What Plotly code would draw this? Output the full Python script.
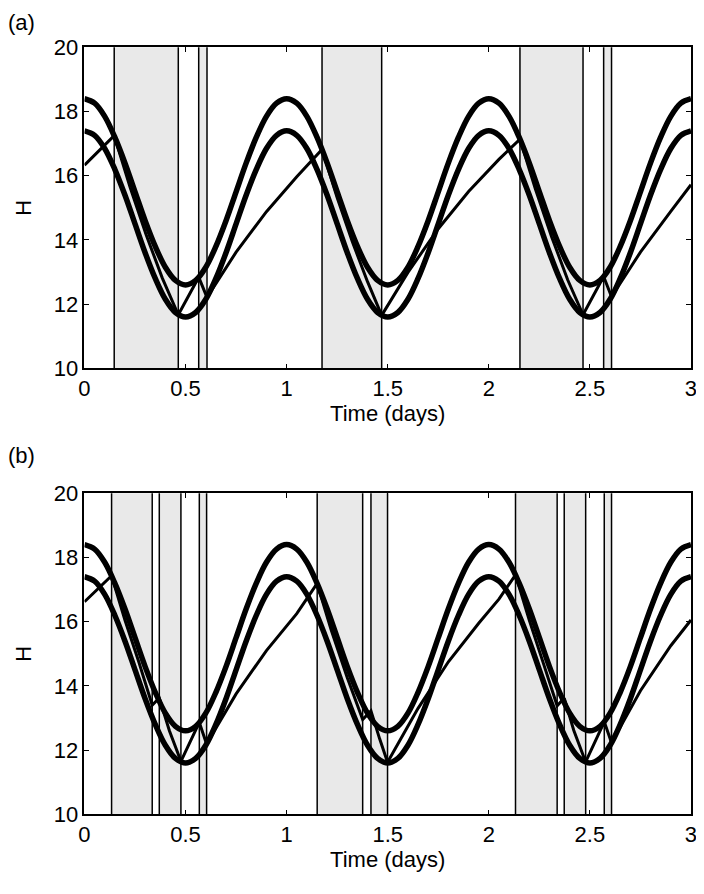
import plotly.graph_objects as go

# Threshold curves (read at 1/20-day steps)
thr_t = [round(i * 0.05, 2) for i in range(61)]
upper = [18.40, 18.26, 17.85, 17.20, 16.40, 15.50, 14.60, 13.80, 13.15, 12.74,
         12.60, 12.74, 13.15, 13.80, 14.60, 15.50, 16.40, 17.20, 17.85, 18.26,
         18.40, 18.26, 17.85, 17.20, 16.40, 15.50, 14.60, 13.80, 13.15, 12.74,
         12.60, 12.74, 13.15, 13.80, 14.60, 15.50, 16.40, 17.20, 17.85, 18.26,
         18.40, 18.26, 17.85, 17.20, 16.40, 15.50, 14.60, 13.80, 13.15, 12.74,
         12.60, 12.74, 13.15, 13.80, 14.60, 15.50, 16.40, 17.20, 17.85, 18.26,
         18.40]
lower = [17.40, 17.26, 16.85, 16.20, 15.40, 14.50, 13.60, 12.80, 12.15, 11.74,
         11.60, 11.74, 12.15, 12.80, 13.60, 14.50, 15.40, 16.20, 16.85, 17.26,
         17.40, 17.26, 16.85, 16.20, 15.40, 14.50, 13.60, 12.80, 12.15, 11.74,
         11.60, 11.74, 12.15, 12.80, 13.60, 14.50, 15.40, 16.20, 16.85, 17.26,
         17.40, 17.26, 16.85, 16.20, 15.40, 14.50, 13.60, 12.80, 12.15, 11.74,
         11.60, 11.74, 12.15, 12.80, 13.60, 14.50, 15.40, 16.20, 16.85, 17.26,
         17.40]

# Panel (a) trajectory
a_t = [0.0, 0.147, 0.226, 0.305, 0.385, 0.464, 0.565, 0.606,
       0.75, 0.9, 1.05, 1.175, 1.25, 1.325, 1.4, 1.470,
       1.6, 1.75, 1.9, 2.05, 2.154, 2.23, 2.31, 2.39, 2.466,
       2.568, 2.607, 2.75, 2.9, 3.0]
a_h = [16.33, 17.25, 15.63, 14.16, 12.81, 11.67, 12.84, 12.21,
       13.62, 14.88, 15.97, 16.82, 15.31, 13.94, 12.70, 11.65,
       12.99, 14.35, 15.51, 16.51, 17.14, 15.59, 14.11, 12.76, 11.67,
       12.86, 12.23, 13.62, 14.89, 15.72]
a_switch = [0.147, 0.464, 0.565, 0.606, 1.175, 1.470, 2.154, 2.466, 2.568, 2.607]

# Panel (b) trajectory
b_t = [0.0, 0.134, 0.20, 0.27, 0.335, 0.370, 0.42, 0.477, 0.568, 0.604,
       0.75, 0.9, 1.05, 1.151, 1.22, 1.30, 1.376, 1.417, 1.46, 1.499,
       1.65, 1.8, 1.95, 2.05, 2.132, 2.20, 2.27, 2.338, 2.373, 2.42, 2.479,
       2.571, 2.607, 2.75, 2.9, 3.0]
b_h = [16.62, 17.43, 16.05, 14.72, 13.40, 13.62, 12.60, 11.65, 12.86, 12.19,
       13.75, 15.10, 16.25, 17.19, 15.75, 14.25, 12.95, 13.22, 12.35, 11.62,
       13.30, 14.75, 15.95, 16.70, 17.46, 16.05, 14.70, 13.38, 13.62, 12.62, 11.63,
       12.88, 12.23, 13.85, 15.25, 16.05]
b_switch = [0.134, 0.335, 0.370, 0.477, 0.568, 0.604, 1.151, 1.376, 1.417, 1.499,
            2.132, 2.338, 2.373, 2.479, 2.571, 2.607]

x_ticks = [0, 0.5, 1, 1.5, 2, 2.5, 3]
x_labels = ["0", "0.5", "1", "1.5", "2", "2.5", "3"]
y_ticks = [10, 12, 14, 16, 18, 20]

FONT = "Liberation Sans, Arial, Helvetica, sans-serif"
FS = 22
fig = go.Figure()
shapes = []

panels = [("x", "y", a_t, a_h, a_switch), ("x2", "y2", b_t, b_h, b_switch)]
for xr, yr, tt, hh, sw in panels:
    for i in range(0, len(sw), 2):
        shapes.append(dict(type="rect", xref=xr, yref=yr + " domain",
                           x0=sw[i], x1=sw[i + 1], y0=0, y1=1,
                           fillcolor="#e9e9e9", line=dict(width=0), layer="below"))
    for s in sw:
        shapes.append(dict(type="line", xref=xr, yref=yr + " domain",
                           x0=s, x1=s, y0=0, y1=1,
                           line=dict(color="black", width=1.5), layer="above"))
    fig.add_trace(go.Scatter(x=thr_t, y=upper, mode="lines", xaxis=xr, yaxis=yr,
                             line=dict(color="black", width=5.5, shape="spline"),
                             showlegend=False, hoverinfo="skip"))
    fig.add_trace(go.Scatter(x=thr_t, y=lower, mode="lines", xaxis=xr, yaxis=yr,
                             line=dict(color="black", width=5.5, shape="spline"),
                             showlegend=False, hoverinfo="skip"))
    fig.add_trace(go.Scatter(x=tt, y=hh, mode="lines", xaxis=xr, yaxis=yr,
                             line=dict(color="black", width=3),
                             showlegend=False, hoverinfo="skip"))

xax = dict(range=[0, 3], tickvals=x_ticks, ticktext=x_labels, ticks="inside",
           ticklen=5, tickwidth=1, tickcolor="black", showline=True, linecolor="black",
           linewidth=1.5, mirror="ticks", showgrid=False, zeroline=False,
           domain=[0.1099, 0.9813], automargin=False,
           tickfont=dict(family=FONT, size=FS, color="black"),
           title=dict(text="Time (days)", font=dict(family=FONT, size=FS, color="black"),
                      standoff=2))
yax = dict(range=[10, 20], tickvals=y_ticks, ticks="inside",
           ticklen=5, tickwidth=1, tickcolor="black", showline=True, linecolor="black",
           linewidth=1.5, mirror="ticks", showgrid=False, zeroline=False, automargin=False,
           tickfont=dict(family=FONT, size=FS, color="black"),
           title=dict(text="H", font=dict(family=FONT, size=FS, color="black"),
                      standoff=16))

fig.update_layout(
    width=696, height=886, margin=dict(l=0, r=0, t=0, b=0),
    paper_bgcolor="white", plot_bgcolor="white",
    xaxis=dict(xax, anchor="y"),
    yaxis=dict(yax, anchor="x", domain=[0.5933, 0.9556]),
    xaxis2=dict(xax, anchor="y2"),
    yaxis2=dict(yax, anchor="x2", domain=[0.0900, 0.4523]),
    shapes=shapes,
    annotations=[
        dict(text="(a)", x=-0.003, y=1.0, xref="paper", yref="paper", xanchor="left",
             yanchor="top", showarrow=False, font=dict(family=FONT, size=FS, color="black")),
        dict(text="(b)", x=-0.003, y=0.5115, xref="paper", yref="paper", xanchor="left",
             yanchor="top", showarrow=False, font=dict(family=FONT, size=FS, color="black")),
    ],
)

fig.write_html("out.html")
